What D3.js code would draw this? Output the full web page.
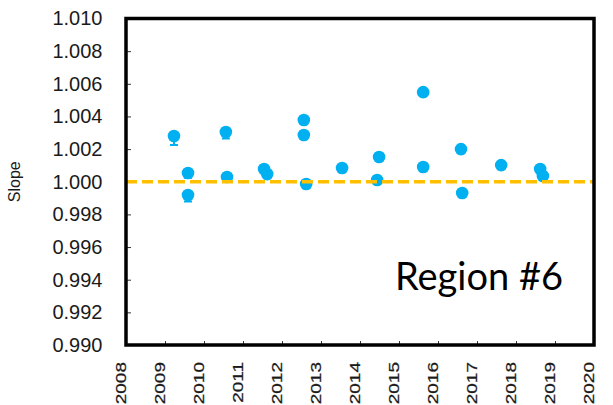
<!DOCTYPE html>
<html>
<head>
<meta charset="utf-8">
<script src="https://cdn.jsdelivr.net/npm/d3@7"></script>
<style>
  body { margin: 0; background: #fff; }
  svg { display: block; }
</style>
</head>
<body>
<script>
const width = 613, height = 405;

// measured points (year, slope) with lower / upper error
const years  = [2009.23, 2009.59, 2009.59, 2010.56, 2010.59, 2011.54, 2011.62, 2012.56, 2012.56, 2012.62,
                2013.54, 2014.44, 2014.49, 2015.62, 2015.62, 2016.59, 2016.62, 2017.62, 2018.62, 2018.69];
const slopes = [1.00280, 1.00054, 0.99919, 1.00305, 1.00029, 1.00078, 1.00047, 1.00378, 1.00286, 0.99986,
                1.00084, 1.00011, 1.00152, 1.00549, 1.00090, 1.00200, 0.99931, 1.00102, 1.00078, 1.00035];
const errLow = [0.00055, 0.00030, 0.00040, 0.00040, 0.00025, 0.00025, 0.00025, 0.00025, 0.00025, 0.00025,
                0.00025, 0.00025, 0.00025, 0.00025, 0.00025, 0.00025, 0.00025, 0.00025, 0.00025, 0.00025];
const errHigh = [0.00020, 0.00020, 0.00020, 0.00020, 0.00020, 0.00020, 0.00020, 0.00020, 0.00020, 0.00020,
                 0.00020, 0.00020, 0.00020, 0.00020, 0.00020, 0.00020, 0.00020, 0.00020, 0.00020, 0.00020];

const yTicks = [0.990, 0.992, 0.994, 0.996, 0.998, 1.000, 1.002, 1.004, 1.006, 1.008, 1.010];
const xTicks = [2008, 2009, 2010, 2011, 2012, 2013, 2014, 2015, 2016, 2017, 2018, 2019, 2020];
const refLine = 1.000;
const regionLabel = "Region #6";

const points = years.map((yr, i) => ({ x: yr, y: slopes[i], lo: errLow[i], hi: errHigh[i] }));

const plot = { left: 126, right: 594, top: 18.5, bottom: 345 };

const x = d3.scaleLinear().domain([2008, 2020]).range([plot.left, plot.right]);
const y = d3.scaleLinear().domain([0.990, 1.010]).range([plot.bottom, plot.top]);

const svg = d3.select('body').append('svg')
  .attr('width', width)
  .attr('height', height);

// y axis, inward ticks
const yAxis = svg.append('g')
  .attr('transform', `translate(${plot.left},0)`)
  .call(d3.axisLeft(y).tickValues(yTicks).tickFormat(d3.format('.3f'))
    .tickSize(-5).tickPadding(23.5));
yAxis.select('.domain').remove();
yAxis.selectAll('line').attr('stroke', '#333');
yAxis.selectAll('text')
  .attr('font-family', 'Liberation Sans, Arial, sans-serif')
  .attr('font-size', 20)
  .attr('fill', '#1a1a1a');

// x axis, inward ticks, rotated labels
const xAxis = svg.append('g')
  .attr('transform', `translate(0,${plot.bottom})`)
  .call(d3.axisBottom(x).tickValues(xTicks).tickFormat(d3.format('d')).tickSize(-4));
xAxis.select('.domain').remove();
xAxis.selectAll('line').attr('stroke', '#333');
xAxis.selectAll('text')
  .attr('x', null).attr('y', null).attr('dy', null)
  .attr('text-anchor', 'end')
  .attr('transform', 'translate(-0.5,17) rotate(-90) scale(1,0.8)')
  .attr('font-family', 'Liberation Sans, Arial, sans-serif')
  .attr('font-size', 19)
  .attr('stroke', '#1a1a1a')
  .attr('stroke-width', 0.3)
  .attr('fill', '#1a1a1a');

// y title
svg.append('text')
  .attr('transform', `translate(20,${y(1.000)}) rotate(-90)`)
  .attr('text-anchor', 'middle')
  .attr('font-family', 'Liberation Sans, Arial, sans-serif')
  .attr('font-size', 16)
  .attr('fill', '#1a1a1a')
  .text('Slope');

// error bars
const eb = svg.append('g').attr('stroke', '#00B0F0').attr('stroke-width', 2);
eb.selectAll('line.bar').data(points).join('line')
  .attr('class', 'bar')
  .attr('x1', d => x(d.x)).attr('x2', d => x(d.x))
  .attr('y1', d => y(d.y - d.lo)).attr('y2', d => y(d.y + d.hi));
eb.selectAll('line.cap').data(points).join('line')
  .attr('class', 'cap')
  .attr('x1', d => x(d.x) - 4).attr('x2', d => x(d.x) + 4)
  .attr('y1', d => y(d.y - d.lo)).attr('y2', d => y(d.y - d.lo));

// markers
svg.append('g').selectAll('circle').data(points).join('circle')
  .attr('cx', d => x(d.x))
  .attr('cy', d => y(d.y))
  .attr('r', 6.3)
  .attr('fill', '#00B0F0');

// reference line at slope 1
svg.append('line')
  .attr('x1', plot.left).attr('x2', plot.right)
  .attr('y1', y(refLine)).attr('y2', y(refLine))
  .attr('stroke', '#FFC000')
  .attr('stroke-width', 3.6)
  .attr('stroke-dasharray', '11,5');

// frame
svg.append('rect')
  .attr('x', plot.left).attr('y', plot.top)
  .attr('width', plot.right - plot.left)
  .attr('height', plot.bottom - plot.top)
  .attr('fill', 'none')
  .attr('stroke', '#000')
  .attr('stroke-width', 3.5);

// region label
svg.append('text')
  .attr('x', 395).attr('y', 290)
  .attr('font-family', 'Lato, Open Sans, sans-serif')
  .attr('font-size', 38)
  .attr('textLength', 168)
  .attr('lengthAdjust', 'spacingAndGlyphs')
  .attr('fill', '#000')
  .text(regionLabel);
</script>
</body>
</html>
